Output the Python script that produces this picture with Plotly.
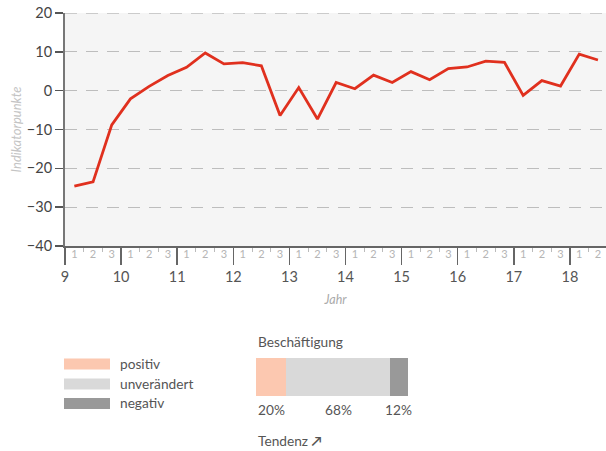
import plotly.graph_objects as go

# ---------------- data ----------------
years = [9, 10, 11, 12, 13, 14, 15, 16, 17, 18]
year_labels = [str(y) for y in years]
period_labels = ["1", "2", "3"]
indicator = [-24.6, -23.5, -8.8, -2.1, 1.1, 3.9, 6.0, 9.7, 6.9, 7.2,
             6.4, -6.4, 0.8, -7.3, 2.1, 0.5, 4.0, 2.1, 4.9, 2.8,
             5.7, 6.1, 7.6, 7.3, -1.2, 2.6, 1.2, 9.4, 7.9]
share_names = ["positiv", "unverändert", "negativ"]
share_values = [20, 68, 12]
share_colors = ["#fcc8b0", "#d9d9d9", "#999999"]
y_range = [-40, 20]

# x positions: three surveys per year, centred in each third
x_vals = [years[0] + (i + 0.5) / 3 for i in range(len(indicator))]
label_pos, label_txt, minor_pos = [], [], []
for y in years:
    for j, lab in enumerate(period_labels):
        label_pos.append(y + (j + 0.5) / 3)
        label_txt.append(lab)
    minor_pos += [y + 1 / 3, y + 2 / 3]

W, H = 606, 451
ML, MR, MT, MB = 65, 0, 13, 0
PW, PH = W - ML - MR, H - MT - MB


def px(x):  # page pixel -> paper
    return (x - ML) / PW


def py(y):
    return (H - MB - y) / PH


FONT = "Lato, Open Sans, sans-serif"
FS = 13.7

fig = go.Figure()
fig.add_trace(go.Scatter(x=x_vals, y=indicator, mode="lines",
                         line=dict(color="#e0301e", width=2.8),
                         xaxis="x", yaxis="y", showlegend=False, hoverinfo="skip"))

for name, val, col in zip(share_names, share_values, share_colors):
    fig.add_trace(go.Bar(x=[val], y=["B"], orientation="h", name=name,
                         marker=dict(color=col, line=dict(width=0)),
                         xaxis="x2", yaxis="y2", showlegend=False, hoverinfo="skip"))

fig.add_trace(go.Scatter(x=[years[0]], y=[0], mode="markers", opacity=0,
                         xaxis="x3", yaxis="y", showlegend=False, hoverinfo="skip"))

main_bottom = py(246)
xr = [9, 9 + PW / 56.1]
GRID = dict(color="#bdbdbd", width=1.3, dash="12px,9px")

fig.update_layout(
    width=W, height=H, margin=dict(l=ML, r=MR, t=MT, b=MB),
    paper_bgcolor="white", plot_bgcolor="#f5f5f5",
    font=dict(family=FONT, color="#555"),
    barmode="stack", bargap=0, hovermode=False,
    xaxis=dict(domain=[0, 1], range=xr, tickmode="array", tickvals=years, ticktext=year_labels,
               ticks="outside", ticklen=17, tickwidth=1.5, tickcolor="#666",
               showline=True, linecolor="#666", linewidth=2, showgrid=False, zeroline=False,
               tickfont=dict(size=14.5, color="#555"), ticklabelstandoff=0,
               minor=dict(tickmode="array", tickvals=minor_pos, ticks="outside", ticklen=4,
                          tickcolor="#bbb", tickwidth=1, showgrid=False),
               title=dict(text="Jahr", font=dict(size=12.5, color="#aaa", style="italic"), standoff=11),
               anchor="y", automargin=False, fixedrange=True),
    xaxis3=dict(overlaying="x", anchor="y", side="bottom", range=xr, tickmode="array",
                tickvals=label_pos, ticktext=label_txt, ticks="", showline=False,
                showgrid=False, zeroline=False, tickfont=dict(size=11, color="#b5b5b5"),
                automargin=False, fixedrange=True),
    yaxis=dict(domain=[main_bottom, 1], range=y_range, dtick=10, tick0=0,
               ticks="outside", ticklen=8, tickwidth=1.5, tickcolor="#555",
               showline=True, linecolor="#777", linewidth=2,
               showgrid=True, gridcolor=GRID["color"], gridwidth=GRID["width"], griddash=GRID["dash"],
               zeroline=False, tickfont=dict(size=14.5, color="#444"), ticklabeloverflow="allow",
               title=dict(text="Indikatorpunkte", font=dict(size=13, color="#c4c4c4", style="italic"), standoff=2),
               automargin=False, fixedrange=True),
    xaxis2=dict(domain=[px(256), px(408)], range=[0, sum(share_values)], visible=False,
                anchor="y2", fixedrange=True),
    yaxis2=dict(domain=[py(396), py(358)], range=[-0.5, 0.5], visible=False,
                anchor="x2", fixedrange=True),
)

ann = []
cum = 0
for val in share_values:
    ann.append(dict(x=cum + val / 2, y=py(409), xref="x2", yref="paper",
                    text=f"{val}%", showarrow=False, font=dict(size=FS, color="#555"),
                    xanchor="center", yanchor="middle"))
    cum += val
ann.append(dict(x=px(256), y=py(341), xref="paper", yref="paper", text="Beschäftigung",
                showarrow=False, font=dict(size=FS, color="#555"), xanchor="left", yanchor="middle"))
ann.append(dict(x=px(256), y=py(440), xref="paper", yref="paper", text="Tendenz <b>↗</b>",
                showarrow=False, font=dict(size=FS, color="#555"), xanchor="left", yanchor="middle"))

# top gridline (plotly omits gridlines on the range edge)
shapes = [dict(type="line", xref="x domain", yref="y", x0=0, x1=1, y0=y_range[1], y1=y_range[1],
               line=GRID, layer="below")]
legend_y = [364, 384, 403.5]
for name, col, yc in zip(share_names, share_colors, legend_y):
    shapes.append(dict(type="rect", xref="paper", yref="paper",
                       x0=px(64), x1=px(110), y0=py(yc + 5.5), y1=py(yc - 5.5),
                       fillcolor=col, line=dict(width=0)))
    ann.append(dict(x=px(118), y=py(yc - 1), xref="paper", yref="paper", text=name,
                    showarrow=False, font=dict(size=FS, color="#555"), xanchor="left", yanchor="middle"))

fig.update_layout(annotations=ann, shapes=shapes)
fig.write_html("out.html", config={"displayModeBar": False, "staticPlot": True},
               post_script="document.body.style.margin='0';document.body.style.overflow='hidden';")
